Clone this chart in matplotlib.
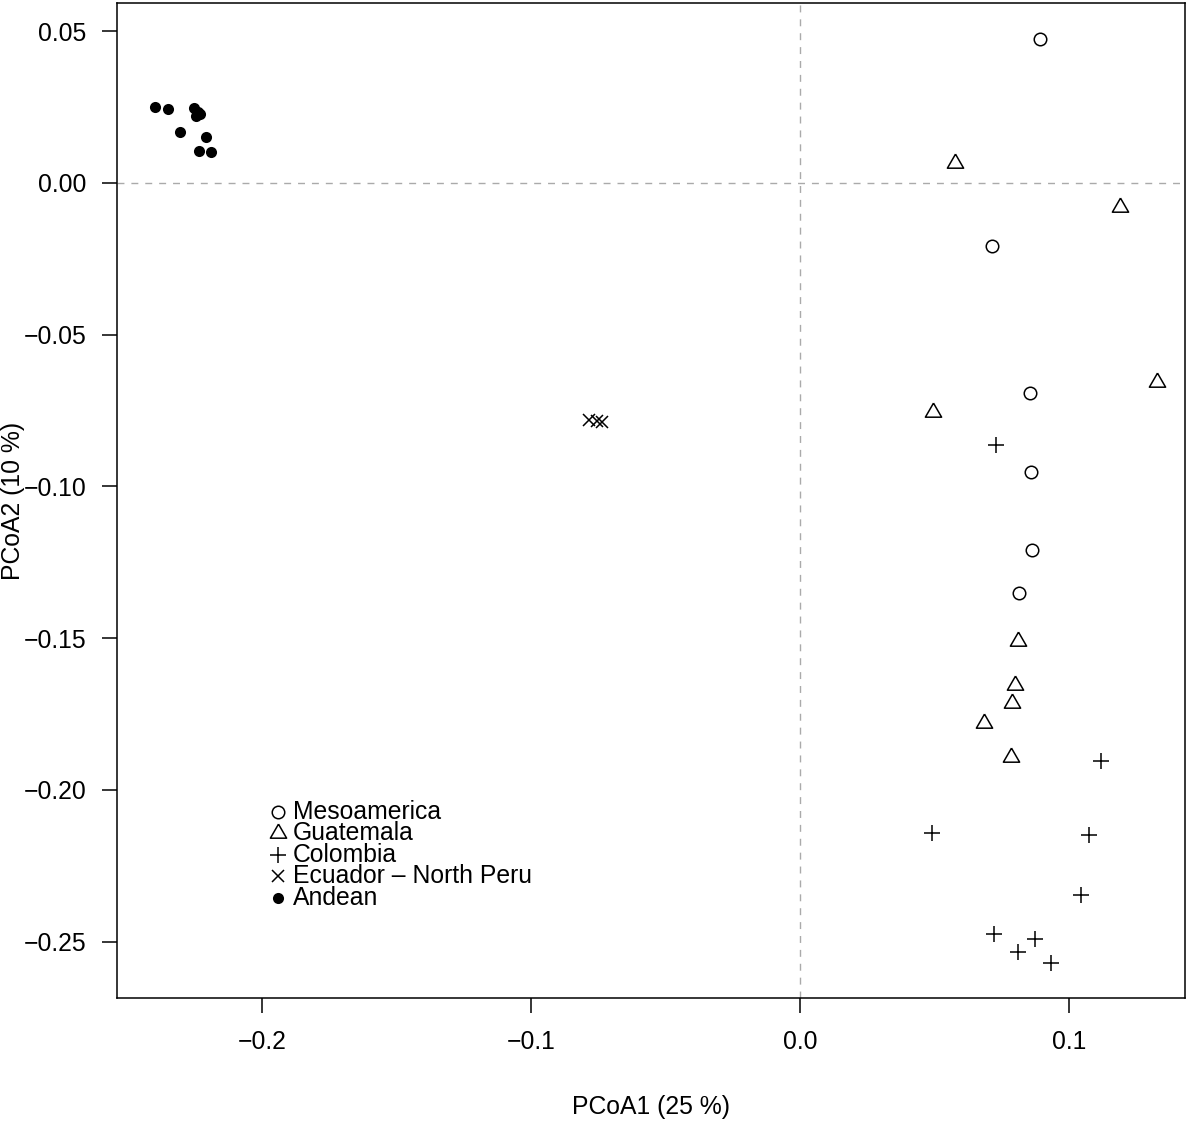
import matplotlib
matplotlib.use("Agg")
import matplotlib.pyplot as plt

plt.rcParams['font.family'] = ['Liberation Sans', 'DejaVu Sans']

# PCoA coordinates per group
meso_x = [0.0892, 0.0715, 0.0855, 0.0859, 0.0862, 0.0814]
meso_y = [0.0475, -0.0208, -0.0693, -0.0953, -0.1210, -0.1352]

guat_x = [0.0576, 0.1190, 0.1328, 0.0496, 0.0812, 0.0798, 0.0789, 0.0683, 0.0783]
guat_y = [0.0067, -0.0078, -0.0655, -0.0754, -0.1510, -0.1655, -0.1715, -0.1779, -0.1891]

colo_x = [0.0729, 0.1117, 0.0491, 0.1076, 0.1045, 0.0720, 0.0875, 0.0812, 0.0933]
colo_y = [-0.0864, -0.1905, -0.2141, -0.2148, -0.2347, -0.2475, -0.2493, -0.2534, -0.2569]

ecua_x = [-0.0784, -0.0755, -0.0736]
ecua_y = [-0.0781, -0.0784, -0.0788]

ande_x = [-0.2397, -0.2349, -0.2252, -0.2237, -0.2245, -0.2229, -0.2306, -0.2208, -0.2234, -0.2190]
ande_y = [0.0250, 0.0245, 0.0248, 0.0235, 0.0221, 0.0227, 0.0169, 0.0151, 0.0106, 0.0103]

group_names = ["Mesoamerica", "Guatemala", "Colombia", "Ecuador \u2013 North Peru", "Andean"]

xticks = [-0.2, -0.1, 0.0, 0.1]
yticks = [0.05, 0.00, -0.05, -0.10, -0.15, -0.20, -0.25]

# R style equilateral triangle (pch 2)
tri = [(0, 1.555), (1.347, -0.778), (-1.347, -0.778), (0, 1.555)]

styles = [
    dict(marker='o', ms=9, mfc='none', mec='black', mew=1.1),
    dict(marker=tri, ms=13.5, mfc='none', mec='black', mew=1.1),
    dict(marker='+', ms=12, mec='black', mew=1.1),
    dict(marker='x', ms=8.5, mec='black', mew=1.1),
    dict(marker='o', ms=8, mfc='black', mec='black', mew=0),
]

fig = plt.figure(figsize=(12, 11.21), dpi=100)
ax = fig.add_axes([0.0975, 0.1097, 0.89, 0.8876])

ax.axhline(0, color='#aaaaaa', lw=1, ls=(0, (5, 5)), zorder=1)
ax.axvline(0, color='#aaaaaa', lw=1, ls=(0, (5, 5)), zorder=1)

groups = [(meso_x, meso_y), (guat_x, guat_y), (colo_x, colo_y),
          (ecua_x, ecua_y), (ande_x, ande_y)]
for (gx, gy), st in zip(groups, styles):
    ax.plot(gx, gy, ls='none', zorder=3, **st)

# legend, drawn by hand to get R's tight spacing
leg_y = [0.1869, 0.1658, 0.1437, 0.1226, 0.1005]
for name, st, ly in zip(group_names, styles, leg_y):
    ax.plot([0.1507], [ly], ls='none', transform=ax.transAxes, zorder=4, **st)
    ax.text(0.1648, ly, name, transform=ax.transAxes, fontsize=17.8,
            ha='left', va='center')

ax.set_xlim(-0.2539, 0.1431)
ax.set_ylim(-0.2686, 0.0593)

ax.set_xticks(xticks)
ax.set_xticklabels(["%.1f" % v if v >= 0 else "\u2212%.1f" % -v for v in xticks])
ax.set_yticks(yticks)
ax.set_yticklabels(["%.2f" % abs(v) if v >= 0 else "\u2212%.2f" % -v for v in yticks])

ax.tick_params(direction='out', length=11, width=1.1, labelsize=17.8)
ax.tick_params(axis='x', pad=12)
ax.tick_params(axis='y', pad=11)
for sp in ax.spines.values():
    sp.set_linewidth(1.1)

ax.set_xlabel("PCoA1 (25 %)", fontsize=17.8)
ax.set_ylabel("PCoA2 (10 %)", fontsize=17.8)
ax.xaxis.set_label_coords(0.5, -0.097)
ax.yaxis.set_label_coords(-0.086, 0.5)

fig.savefig("out.png", dpi=100)
